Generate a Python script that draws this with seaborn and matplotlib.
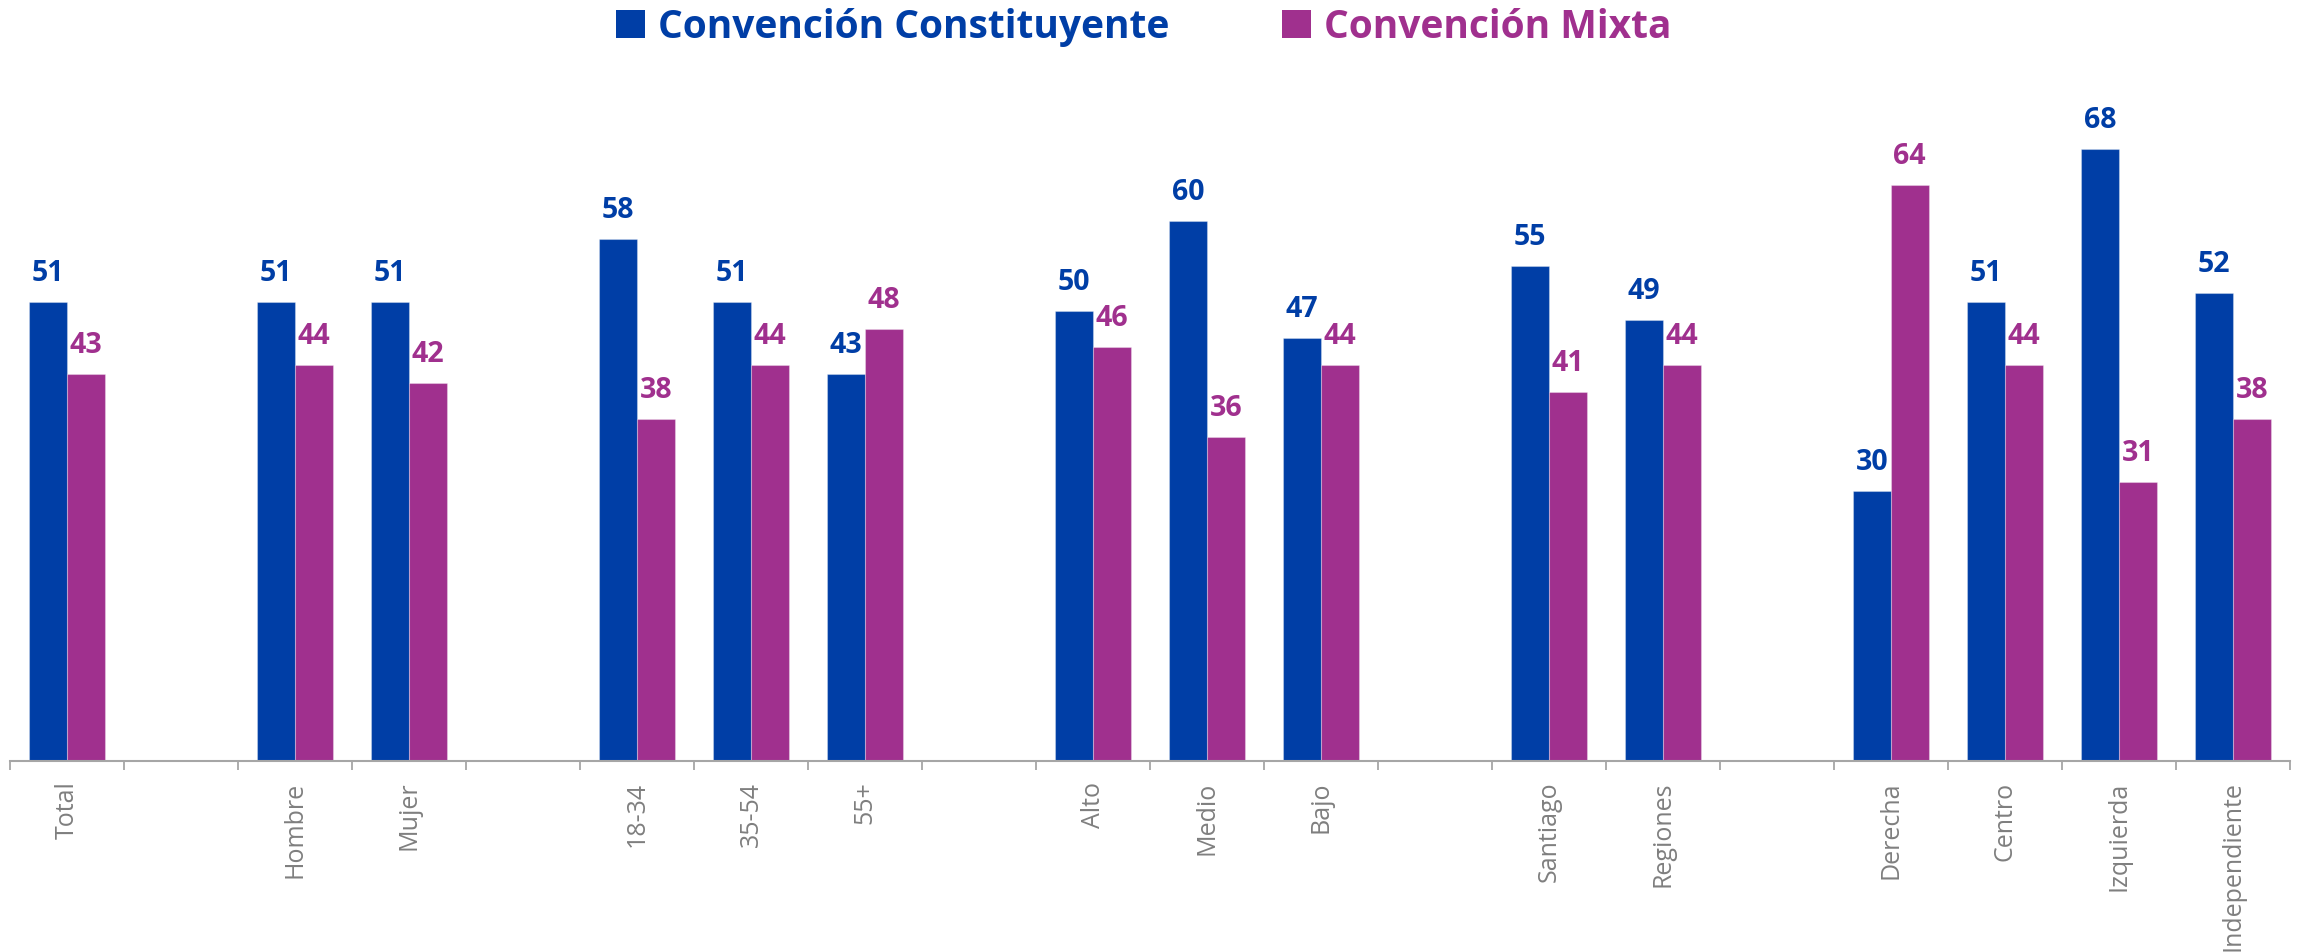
import numpy as np
import pandas as pd
import matplotlib
matplotlib.use("Agg")
import matplotlib.pyplot as plt
from matplotlib.patches import Patch
import seaborn as sns

categories = ["Total", "Hombre", "Mujer", "18-34", "35-54", "55+", "Alto", "Medio", "Bajo",
              "Santiago", "Regiones", "Derecha", "Centro", "Izquierda", "Independiente"]
constituyente = [51, 51, 51, 58, 51, 43, 50, 60, 47, 55, 49, 30, 51, 68, 52]
mixta = [43, 44, 42, 38, 44, 48, 46, 36, 44, 41, 44, 64, 44, 31, 38]
series_names = ["Convención Constituyente", "Convención Mixta"]
slots = ["Total", " ", "Hombre", "Mujer", "  ", "18-34", "35-54", "55+", "   ",
         "Alto", "Medio", "Bajo", "    ", "Santiago", "Regiones", "     ",
         "Derecha", "Centro", "Izquierda", "Independiente"]

BLUE = "#003EA6"
MAG = "#A0308E"
GRAY = "#7F7F7F"

sns.set_style("white")
plt.rcParams["font.family"] = ["Open Sans", "DejaVu Sans"]

df = pd.DataFrame({
    "cat": categories * 2,
    "val": constituyente + mixta,
    "serie": [series_names[0]] * len(categories) + [series_names[1]] * len(categories),
})

fig = plt.figure(figsize=(23.05, 9.52), dpi=100)
ax = fig.add_axes([10 / 2305, 191.3 / 952, 2280 / 2305, (760.7 - 58.7) / 952])

sns.barplot(data=df, x="cat", y="val", hue="serie", order=slots, hue_order=series_names,
            palette=[BLUE, MAG], width=0.66, saturation=1, ax=ax, legend=False,
            edgecolor=(1, 1, 1, 0.3), linewidth=0.8)

for cont, col in zip(ax.containers, [BLUE, MAG]):
    ax.bar_label(cont, fmt="%.0f", padding=10, color=col, fontsize=20.5, fontweight="bold")

ax.set_xlim(-0.5, len(slots) - 0.5)
ax.set_ylim(0, 78)
ax.set_yticks([])
ax.set_xlabel("")
ax.set_ylabel("")
for s in ["top", "right", "left"]:
    ax.spines[s].set_visible(False)
ax.spines["bottom"].set_color("#A6A6A6")
ax.spines["bottom"].set_linewidth(1.5)

ax.set_xticks(range(len(slots)))
ax.set_xticklabels([s.strip() for s in slots], rotation=90, fontsize=18, color=GRAY)
ax.set_xticks(np.arange(-0.5, len(slots), 1), minor=True)
ax.tick_params(axis="x", which="major", length=0, pad=15)
ax.tick_params(axis="x", which="minor", length=6.3, width=1.3, color="#A6A6A6", direction="out")
ax.tick_params(axis="x", which="both", bottom=True)

handles = [Patch(facecolor=BLUE, edgecolor="none"), Patch(facecolor=MAG, edgecolor="none")]
leg = fig.legend(handles, series_names, loc="center", bbox_to_anchor=(0.496, 0.9716), ncol=2,
                 frameon=False, prop={"family": "Open Sans", "weight": "bold", "size": 28},
                 handlelength=0.75, handleheight=0.75, handletextpad=0.33, columnspacing=2.9)
for t, col in zip(leg.get_texts(), [BLUE, MAG]):
    t.set_color(col)

fig.savefig("out.png", dpi=100)
